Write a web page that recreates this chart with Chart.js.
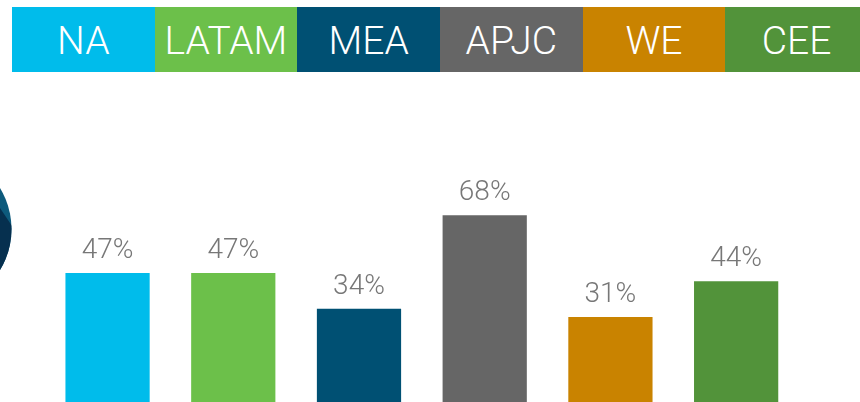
<!DOCTYPE html>
<html>
<head>
<meta charset="utf-8">
<title>Regions</title>
<script src="https://cdn.jsdelivr.net/npm/chart.js@4"></script>
<style>
    html, body { margin: 0; padding: 0; background: #fff; }
    body { position: relative; width: 860px; height: 402px; overflow: hidden; font-family: Roboto, sans-serif; }
    #strip { position: absolute; left: 12px; top: 7px; width: 848px; height: 65px; display: flex; overflow: hidden; }
    #strip div { flex: 0 0 142.67px; color: #fff; font-size: 39px; font-weight: 300; line-height: 68px; text-align: center; white-space: nowrap; }
    #chart-wrap { position: absolute; left: 0; top: 0; width: 860px; height: 402px; }
</style>
</head>
<body>
<div id="chart-wrap"><canvas id="regions-chart"></canvas></div>
<div id="strip"></div>
<script>
const categories = ['NA', 'LATAM', 'MEA', 'APJC', 'WE', 'CEE'];
const percentValues = [47, 47, 34, 68, 31, 44];
const colors = ['#00bceb', '#6cc04a', '#005073', '#666666', '#c98300', '#52933a'];

const strip = document.getElementById('strip');
categories.forEach(function (name, i) {
    const cell = document.createElement('div');
    cell.textContent = name;
    cell.style.background = colors[i];
    strip.appendChild(cell);
});

// value labels above the bars
const valueLabels = {
    id: 'valueLabels',
    afterDatasetsDraw(chart) {
        const ctx = chart.ctx;
        ctx.save();
        ctx.font = '300 28px Roboto, sans-serif';
        ctx.fillStyle = '#777777';
        ctx.textAlign = 'center';
        ctx.textBaseline = 'alphabetic';
        chart.getDatasetMeta(0).data.forEach(function (bar, i) {
            ctx.fillText(percentValues[i] + '%', bar.x, bar.y - 15);
        });
        ctx.restore();
    }
};

// cut-off globe at the left edge
const globe = {
    id: 'globe',
    beforeDatasetsDraw(chart) {
        const ctx = chart.ctx;
        const cx = -67.5, cy = 229, r = 79;
        ctx.save();
        ctx.beginPath();
        ctx.arc(cx, cy, r, 0, Math.PI * 2);
        ctx.clip();
        ctx.fillStyle = '#0d5a7c';
        ctx.fillRect(0, cy - r, 14, r * 2);
        ctx.fillStyle = '#06304f';
        ctx.beginPath();
        ctx.moveTo(0, 208);
        ctx.lineTo(14, 229);
        ctx.lineTo(14, 280);
        ctx.lineTo(0, 280);
        ctx.closePath();
        ctx.fill();
        ctx.restore();
    }
};

new Chart(document.getElementById('regions-chart'), {
    type: 'bar',
    data: {
        labels: categories,
        datasets: [{
            data: percentValues,
            backgroundColor: colors,
            barPercentage: 0.67,
            categoryPercentage: 1
        }]
    },
    options: {
        responsive: true,
        maintainAspectRatio: false,
        animation: false,
        layout: { padding: { left: 44.7, right: 61, top: 127.5, bottom: 0 } },
        plugins: {
            legend: { display: false },
            tooltip: { enabled: false }
        },
        scales: {
            x: { display: false },
            y: { display: false, min: 0, max: 100 }
        }
    },
    plugins: [globe, valueLabels]
});
</script>
</body>
</html>
